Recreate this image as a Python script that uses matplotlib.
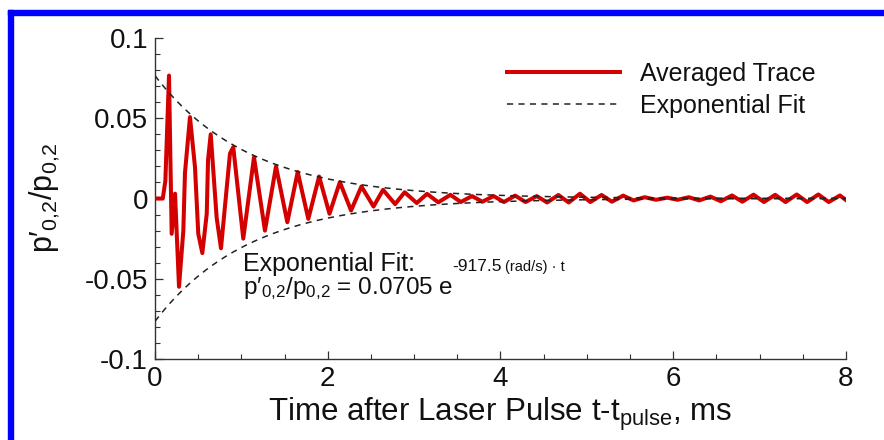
import numpy as np
import matplotlib
matplotlib.use("Agg")
import matplotlib.pyplot as plt
from matplotlib.patches import Rectangle
from matplotlib.ticker import FixedLocator, FixedFormatter, MultipleLocator

plt.rcParams['font.family'] = ['Liberation Sans', 'DejaVu Sans']
plt.rcParams['mathtext.fontset'] = 'custom'
plt.rcParams['mathtext.rm'] = 'Liberation Sans'
plt.rcParams['mathtext.it'] = 'Liberation Sans:italic'
plt.rcParams['mathtext.bf'] = 'Liberation Sans:bold'

# ---- data ----
t_ms = [0.00, 0.09, 0.12, 0.162, 0.193, 0.232, 0.278, 0.328, 0.347, 0.405,
        0.463, 0.501, 0.548, 0.599, 0.614, 0.645, 0.714, 0.764, 0.868, 0.906,
        1.022, 1.146, 1.273, 1.401, 1.532, 1.652, 1.775, 1.90, 2.02, 2.14,
        2.27, 2.39, 2.53, 2.64, 2.78, 2.89, 3.03, 3.15, 3.28, 3.42,
        3.54, 3.67, 3.79, 3.92, 4.04, 4.17, 4.29, 4.42, 4.54, 4.67,
        4.79, 4.92, 5.04, 5.17, 5.29, 5.42, 5.54, 5.67, 5.80, 5.93,
        6.05, 6.18, 6.30, 6.43, 6.55, 6.68, 6.80, 6.93, 7.05, 7.18,
        7.30, 7.43, 7.55, 7.68, 7.80, 7.93, 8.00]
ratio = [0.0, 0.0, 0.011, 0.0766, -0.022, 0.003, -0.055, -0.020, 0.016, 0.0507,
         0.0195, -0.022, -0.034, -0.0095, 0.024, 0.040, -0.012, -0.031, 0.028, 0.032,
         -0.025, 0.0257, -0.020, 0.0200, -0.0148, 0.0165, -0.0127, 0.0137, -0.0095, 0.0102,
         -0.0075, 0.0075, -0.0050, 0.0054, -0.0035, 0.0039, -0.0028, 0.0029, -0.0024, 0.0023,
         -0.0022, 0.0015, -0.0020, 0.0015, -0.0022, 0.0018, -0.0022, 0.0015, -0.0025, 0.0022,
         -0.0025, 0.0030, -0.0022, 0.0022, -0.0020, 0.0018, -0.0012, 0.0008, -0.0008, 0.0005,
         -0.0008, 0.0008, -0.0012, 0.0012, -0.0017, 0.0019, -0.0020, 0.0024, -0.0022, 0.0023,
         -0.0022, 0.0025, -0.0022, 0.0025, -0.0022, 0.0019, -0.0010]

fit_amplitude = 0.0765      # envelope value at t = 0 as drawn
fit_rate = 917.5            # 1/s

xticks = [0, 2, 4, 6, 8]
xtick_labels = ['0', '2', '4', '6', '8']
yticks = [-0.1, -0.05, 0, 0.05, 0.1]
ytick_labels = ['-0.1', '-0.05', '0', '0.05', '0.1']

# ---- figure ----
W, H = 884, 440
fig = plt.figure(figsize=(W / 100, H / 100), dpi=100)
fig.patch.set_facecolor('white')

L, R, T, B = 155, 846, 38, 359
ax = fig.add_axes([L / W, 1 - B / H, (R - L) / W, (B - T) / H])

red = '#d40000'
ax.plot(t_ms, ratio, color=red, lw=2.9, solid_joinstyle='round',
        label='Averaged Trace', zorder=3)

t_fit = np.linspace(0, 8, 400)
env = fit_amplitude * np.exp(-fit_rate * t_fit * 1e-3)
ax.plot(t_fit, env, color='#222222', lw=1.1, ls=(0, (4, 3.5)),
        label='Exponential Fit', zorder=4)
ax.plot(t_fit, -env, color='#222222', lw=1.1, ls=(0, (4, 3.5)), zorder=4)

ax.set_xlim(0, 8)
ax.set_ylim(-0.1, 0.1)
ax.xaxis.set_major_locator(FixedLocator(xticks))
ax.xaxis.set_major_formatter(FixedFormatter(xtick_labels))
ax.yaxis.set_major_locator(FixedLocator(yticks))
ax.yaxis.set_major_formatter(FixedFormatter(ytick_labels))
ax.xaxis.set_minor_locator(MultipleLocator(0.5))
ax.yaxis.set_minor_locator(MultipleLocator(0.01))

for s in ['top', 'right']:
    ax.spines[s].set_visible(False)
for s in ['left', 'bottom']:
    ax.spines[s].set_color('#333333')
    ax.spines[s].set_linewidth(1.0)

ax.tick_params(which='major', direction='in', length=6, width=0.9,
               colors='#333333', labelcolor='#111111', labelsize=20, pad=5)
ax.tick_params(which='minor', direction='in', length=3.5, width=0.8,
               colors='#333333')

ax.set_xlabel(r'Time after Laser Pulse t-t$_{\mathrm{pulse}}$, ms',
              fontsize=22.5, color='#111111')
ax.set_ylabel(r'p$\mathrm{\prime}_{\mathrm{0{,}2}}$/p$_{\mathrm{0{,}2}}$',
              fontsize=22, color='#111111')
ax.xaxis.set_label_coords(0.5, (B - 396) / (B - T))
ax.yaxis.set_label_coords((62 - L) / (R - L), 0.5)

# annotation with the fit equation
ax.text((243 - L) / (R - L), (B - 271) / (B - T), 'Exponential Fit:',
        transform=ax.transAxes, fontsize=18, color='#111111', va='baseline')
main = fig.text(243 / W, 1 - 294 / H,
                r'p$\mathrm{\prime}_{\mathrm{0{,}2}}$/p$_{\mathrm{0{,}2}}$ = 0.0705 e',
                fontsize=17.5, color='#111111', va='baseline')
renderer = fig.canvas.get_renderer()
bb = main.get_window_extent(renderer)
sup1 = fig.text((bb.x1 - 1) / W, 1 - 271 / H, '-917.5',
                fontsize=12.5, color='#111111', va='baseline')
bb1 = sup1.get_window_extent(renderer)
fig.text((bb1.x1 + 3) / W, 1 - 271 / H, '(rad/s) \u00b7 t',
         fontsize=10.5, color='#111111', va='baseline')

leg = ax.legend(loc='upper left', bbox_to_anchor=(507 / W, 1 - 62 / H),
                bbox_transform=fig.transFigure, frameon=False, fontsize=18,
                handlelength=4.5, handletextpad=0.8, labelspacing=0.3,
                borderpad=0, borderaxespad=0)
for txt in leg.get_texts():
    txt.set_color('#111111')

# blue frame around the picture (top and left edges visible)
fig.patches.append(Rectangle((8 / W, 1 - 15 / H), 1, 5 / H,
                             transform=fig.transFigure, color='#0000ff',
                             zorder=10))
fig.patches.append(Rectangle((8 / W, 0), 5 / W, 1 - 10 / H,
                             transform=fig.transFigure, color='#0000ff',
                             zorder=10))

fig.savefig('out.png', dpi=100)
